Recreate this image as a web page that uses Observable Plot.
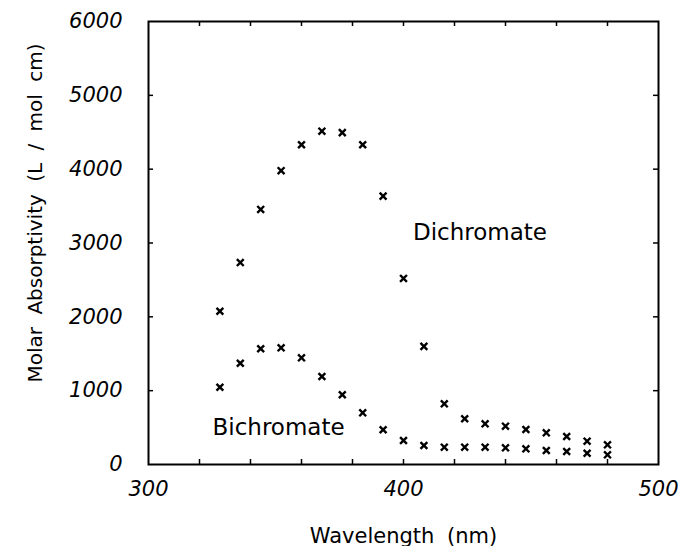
<!DOCTYPE html>
<html><head><meta charset="utf-8">
<script src="https://cdn.jsdelivr.net/npm/d3@7"></script>
<script src="https://cdn.jsdelivr.net/npm/@observablehq/plot@0.6"></script>
<style>
body{margin:0;background:#fff}
svg text{word-spacing:6px}
</style>
</head><body><div id="chart"></div>
<script>
const wavelengths = [328,336,344,352,360,368,376,384,392,400,408,416,424,432,440,448,456,464,472,480];
const dichromate = [2075,2735,3455,3980,4330,4515,4495,4330,3635,2520,1600,822,620,551,519,474,429,379,316,266];
const bichromate = [1047,1372,1567,1580,1445,1192,944,700,470,325,257,235,235,235,226,212,190,176,153,131];
const seriesNames = ["Dichromate","Bichromate"];
const labelX = [430,351];
const labelY = [3140,500];
const xTickLabels = [300,400,500];
const xMinorTicks = [320,340,360,380,400,420,440,460,480];
const yTicks = [1000,2000,3000,4000,5000];
const yTickLabels = [0,1000,2000,3000,4000,5000,6000];
const xTitle = "Wavelength (nm)";
const yTitle = "Molar Absorptivity (L / mol cm)";

const points = wavelengths.flatMap((w,i)=>[
  {w, v: dichromate[i], s: seriesNames[0]},
  {w, v: bichromate[i], s: seriesNames[1]}
]);
const labels = seriesNames.map((s,i)=>({s, x: labelX[i], y: labelY[i]}));

const W = 683, H = 546, mL = 148, mR = 25, mT = 21, mB = 82;
const fw = W - mL - mR, fh = H - mT - mB, tl = 5;

const chart = Plot.plot({
  width: W, height: H,
  marginLeft: mL, marginRight: mR, marginTop: mT, marginBottom: mB,
  style: {fontFamily: "DejaVu Sans", background: "white", color: "black"},
  x: {domain: [300,500]},
  y: {domain: [0,6000]},
  marks: [
    Plot.axisX(xTickLabels, {tickSize: 0, tickPadding: 17, fontSize: 21, fontStyle: "italic", label: null, tickFormat: d3.format("d")}),
    Plot.axisY(yTickLabels, {tickSize: 0, tickPadding: 26, fontSize: 21, fontStyle: "italic", label: null, tickFormat: d3.format("d")}),
    Plot.tickX(xMinorTicks, {x: d=>d, insetTop: fh - tl, stroke: "black", strokeWidth: 1.5}),
    Plot.tickX(xMinorTicks, {x: d=>d, insetBottom: fh - tl, stroke: "black", strokeWidth: 1.5}),
    Plot.tickY(yTicks, {y: d=>d, insetRight: fw - tl, stroke: "black", strokeWidth: 1.5}),
    Plot.tickY(yTicks, {y: d=>d, insetLeft: fw - tl, stroke: "black", strokeWidth: 1.5}),
    Plot.frame({stroke: "black", strokeWidth: 2}),
    Plot.dot(points, {x: "w", y: "v", symbol: "times", r: 3.2, stroke: "black", strokeWidth: 2.4}),
    Plot.text(labels, {x: "x", y: "y", text: "s", fontSize: 23, fill: "black"}),
    Plot.text([xTitle], {text: d=>d, frameAnchor: "bottom", lineAnchor: "bottom", dy: 78, fontSize: 21, fill: "black"}),
    Plot.text([yTitle], {text: d=>d, frameAnchor: "left", textAnchor: "middle", rotate: -90, dx: -113, dy: -30, fontSize: 20, fill: "black"})
  ]
});
document.getElementById("chart").appendChild(chart);
</script>
</body></html>
